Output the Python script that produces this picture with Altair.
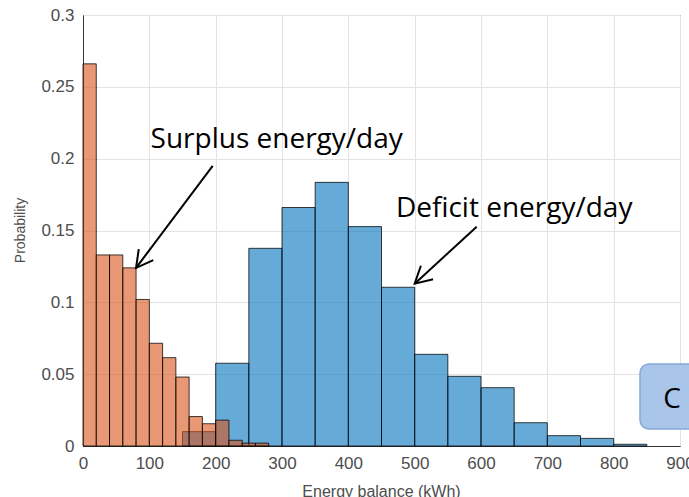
import altair as alt
import pandas as pd

# Surplus energy/day histogram (bin width 20 kWh)
surplus_start = [0, 20, 40, 60, 80, 100, 120, 140, 160, 180, 200, 220, 240, 260]
surplus_prob = [0.266, 0.133, 0.133, 0.124, 0.102, 0.0715, 0.0615, 0.048,
                0.0205, 0.0155, 0.018, 0.004, 0.002, 0.002]
surplus_width = 20

# Deficit energy/day histogram (bin width 50 kWh)
deficit_start = [150, 200, 250, 300, 350, 400, 450, 500, 550, 600, 650, 700, 750, 800]
deficit_prob = [0.010, 0.0576, 0.1376, 0.166, 0.1835, 0.1527, 0.1105, 0.0638,
                0.0485, 0.0406, 0.0162, 0.0072, 0.0053, 0.0012]
deficit_width = 50

# Annotations (data coordinates)
ann_text = ["Surplus energy/day", "Deficit energy/day"]
ann_text_x = [292, 650]
ann_text_y = [0.2074, 0.1596]
arrow_x_from = [195.5, 593.5]
arrow_y_from = [0.195, 0.1526]
arrow_x_to = [80, 500]
arrow_y_to = [0.124, 0.113]
arrow_angle = [37, 48]

x_ticks = list(range(0, 901, 100))
y_ticks = [0, 0.05, 0.1, 0.15, 0.2, 0.25, 0.3]

sur = pd.DataFrame({"start": surplus_start, "prob": surplus_prob})
sur["end"] = sur["start"] + surplus_width
def_ = pd.DataFrame({"start": deficit_start, "prob": deficit_prob})
def_["end"] = def_["start"] + deficit_width
ann = pd.DataFrame({"label": ann_text, "x": ann_text_x, "y": ann_text_y})
arr = pd.DataFrame({"x": arrow_x_from, "y": arrow_y_from, "x2": arrow_x_to,
                    "y2": arrow_y_to, "ang": arrow_angle})

xscale = alt.Scale(domain=[0, 900], nice=False, zero=False)
yscale = alt.Scale(domain=[0, 0.3], nice=False)

xaxis = alt.Axis(values=x_ticks, title="Energy balance (kWh)", format="d",
                 titleX=298, titleY=45, titleBaseline="middle", titleFontSize=16,
                 labelFlush=False)
yaxis = alt.Axis(values=y_ticks, title="Probability", format="~g",
                 titleX=-63, titleY=215, titleAngle=-90, titleBaseline="middle",
                 titleAlign="center", titleFontSize=14, labelFlush=False)

def bars(df, color):
    return alt.Chart(df).mark_bar(
        fill=color, fillOpacity=0.6, stroke="black", strokeOpacity=0.75, strokeWidth=1
    ).encode(
        x=alt.X("start:Q", scale=xscale, axis=xaxis),
        x2="end:Q",
        y=alt.Y("prob:Q", scale=yscale, axis=yaxis),
        y2=alt.datum(0),
    )

blue = bars(def_, "#0072BD")
orange = bars(sur, "#D95319")

lines = alt.Chart(arr).mark_rule(color="black", strokeWidth=2).encode(
    x="x:Q", y="y:Q", x2="x2:Q", y2="y2:Q"
)
heads = alt.Chart(arr).mark_point(
    shape="M -0.55 -1 L 0 0 L 0.55 -1", filled=False, stroke="black",
    strokeWidth=2, size=1100, opacity=1
).encode(
    x="x2:Q", y="y2:Q", angle=alt.Angle("ang:Q", scale=None)
)
texts = alt.Chart(ann).mark_text(
    font="Open Sans", fontSize=28, align="center", baseline="alphabetic", color="black"
).encode(x="x:Q", y="y:Q", text="label:N")

cbox = alt.Chart(pd.DataFrame({"k": [0]})).mark_rect(
    fill="#A9C6EA", stroke="#86A9DA", strokeWidth=1.5, cornerRadius=9, clip=False
).encode(x=alt.value(557), x2=alt.value(625), y=alt.value(349), y2=alt.value(414))
ctext = alt.Chart(pd.DataFrame({"t": ["C"]})).mark_text(
    font="Open Sans", fontSize=28, align="center", baseline="middle", color="black"
).encode(x=alt.value(589), y=alt.value(385), text="t:N")

chart = alt.layer(blue, orange, lines, heads, texts, cbox, ctext).properties(
    width=597, height=431,
    autosize=alt.AutoSizeParams(type="none"),
    padding={"left": 83, "top": 15, "right": 9, "bottom": 51},
).configure_view(
    stroke="#333333", strokeWidth=1
).configure_axis(
    labelFont="Liberation Sans", labelFontSize=17, labelColor="#4d4d4d",
    titleFont="Liberation Sans", titleColor="#4d4d4d", titleFontWeight="normal",
    gridColor="#e3e3e3", gridWidth=1, domainColor="#333333", ticks=False,
    labelPadding=9
)

chart.save("out.html", embed_options={"renderer": "svg", "actions": False})
